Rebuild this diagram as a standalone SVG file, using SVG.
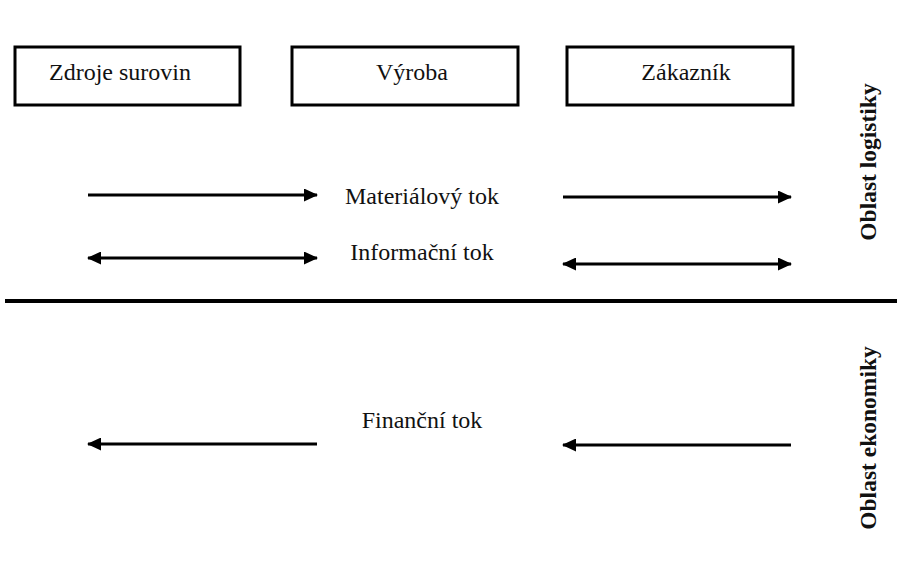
<svg xmlns="http://www.w3.org/2000/svg" width="897" height="586" viewBox="0 0 897 586">
  <style>
    .box { fill: #ffffff; stroke: #000000; stroke-width: 3; }
    .lbl { font-family: "Liberation Serif", "Times New Roman", serif; font-size: 24px; fill: #111111; text-anchor: middle; }
    .side { font-family: "Liberation Serif", "Times New Roman", serif; font-size: 23.5px; font-weight: bold; fill: #111111; text-anchor: middle; }
    .flow { stroke: #000000; stroke-width: 3; fill: none; }
    .divider { stroke: #000000; stroke-width: 4; }
  </style>
  <defs>
    <marker id="head" viewBox="0 0 14 13" refX="13" refY="6.5" markerWidth="14" markerHeight="13" markerUnits="userSpaceOnUse" orient="auto-start-reverse">
      <path d="M0,0 L14,6.5 L0,13 Z" fill="#000000"/>
    </marker>
  </defs>
  <rect width="897" height="586" fill="#ffffff"/>

  <g id="node-zdroje">
    <rect class="box" x="15" y="47" width="225" height="58"/>
    <text class="lbl" x="120" y="80">Zdroje surovin</text>
  </g>
  <g id="node-vyroba">
    <rect class="box" x="292" y="47" width="226" height="58"/>
    <text class="lbl" x="412" y="80">Výroba</text>
  </g>
  <g id="node-zakaznik">
    <rect class="box" x="567" y="47" width="226" height="58"/>
    <text class="lbl" x="686" y="80">Zákazník</text>
  </g>

  <g id="connectors">
    <line class="flow" x1="88" y1="195" x2="317" y2="195" marker-end="url(#head)"/>
    <line class="flow" x1="563" y1="197" x2="791" y2="197" marker-end="url(#head)"/>
    <line class="flow" x1="88" y1="258" x2="317" y2="258" marker-start="url(#head)" marker-end="url(#head)"/>
    <line class="flow" x1="563" y1="264" x2="791" y2="264" marker-start="url(#head)" marker-end="url(#head)"/>
    <line class="flow" x1="317" y1="444" x2="88" y2="444" marker-end="url(#head)"/>
    <line class="flow" x1="791" y1="445" x2="563" y2="445" marker-end="url(#head)"/>
  </g>

  <g id="flow-labels">
    <text class="lbl" x="422" y="204">Materiálový tok</text>
    <text class="lbl" x="422" y="260">Informační tok</text>
    <text class="lbl" x="422" y="428">Finanční tok</text>
  </g>

  <line class="divider" x1="5" y1="301" x2="897" y2="301"/>

  <g id="areas">
    <text class="side" transform="translate(876,162) rotate(-90)">Oblast logistiky</text>
    <text class="side" transform="translate(876,438) rotate(-90)">Oblast ekonomiky</text>
  </g>
</svg>
